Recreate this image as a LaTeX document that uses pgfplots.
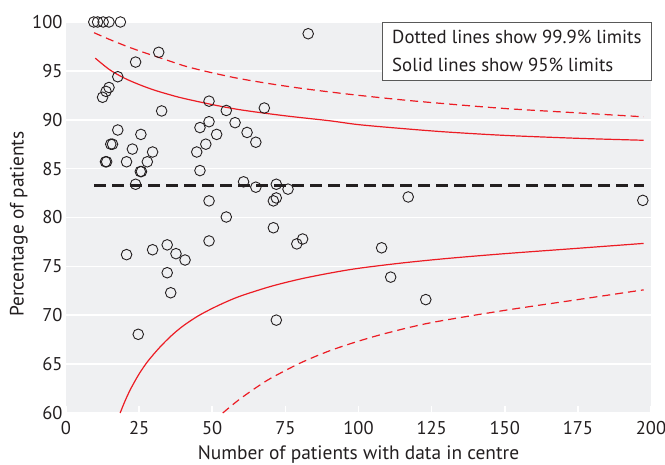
\documentclass[border=0pt]{standalone}
\usepackage{fontspec}
\setmainfont{PT Sans}
\usepackage{pgfplots}
\pgfplotsset{compat=1.18}
\definecolor{bggray}{HTML}{EFF0F2}
\definecolor{fred}{HTML}{EC1C24}
\definecolor{ink}{HTML}{231F20}
\begin{document}
\begin{tikzpicture}
\begin{axis}[
  at={(0,0)}, anchor=south west,
  scale only axis, width=585pt, height=391pt,
  xmin=0, xmax=200, ymin=60, ymax=100,
  xtick={0,25,...,200}, ytick={60,65,...,100},
  clip=false,
  axis background/.style={fill=bggray},
  axis line style={draw=none},
  xtick pos=bottom, tick align=inside, major tick length=7pt,
  xtick style={draw=white, line width=1.5pt},
  ytick style={draw=none},
  ymajorgrids, grid style={white, line width=1.6pt},
  /pgf/number format/assume math mode=true,
  tick label style={font=\fontsize{18.5}{18.5}\selectfont, text=ink},
  xticklabel style={anchor=base, yshift=-22pt},
  label style={font=\fontsize{19.4}{19.4}\selectfont, text=ink},
  xlabel={Number of patients with data in centre},
  ylabel={Percentage of patients},
  xlabel style={at={(axis description cs:0.5,-0.1202)}, anchor=base},
  ylabel style={at={(axis description cs:-0.0805,0.483)}, anchor=center},
]
% mean
\addplot[ink, line width=2.8pt, dash pattern=on 12pt off 6pt] coordinates {(9.7,83.3) (197.5,83.3)};
% 99.9% upper
\addplot[fred, line width=1.2pt, dash pattern=on 8pt off 5pt, smooth] coordinates {
(9.6,98.9) (15,98.2) (20,97.6) (25,97.05) (30,96.55) (35,96.05) (40,95.55) (45,95.15) (50,94.8) (55,94.47) (60,94.17) (70,93.67) (80,93.23) (90,92.85) (100,92.5) (115,92.03) (130,91.63) (150,91.15) (175,90.7) (197.5,90.3)};
% 95% upper
\addplot[fred, line width=1.2pt, smooth] coordinates {
(10,96.3) (15,95.1) (20,94.25) (25,93.6) (30,93.05) (35,92.6) (40,92.2) (50,91.55) (60,91.0) (75,90.4) (90,89.9) (100,89.5) (115,89.1) (130,88.75) (150,88.4) (175,88.1) (197.5,87.9)};
% 95% lower
\addplot[fred, line width=1.2pt, smooth] coordinates {
(18.5,60) (20,61.1) (22,62.4) (25,64.0) (28,65.3) (32,66.7) (36,67.9) (40,68.9) (45,69.9) (50,70.7) (55,71.4) (60,72.0) (70,72.95) (80,73.7) (90,74.3) (100,74.8) (115,75.35) (130,75.8) (150,76.3) (175,76.85) (197.5,77.35)};
% 99.9% lower
\addplot[fred, line width=1.2pt, dash pattern=on 8pt off 5pt, smooth] coordinates {
(53.6,60) (57,60.85) (60,61.55) (65,62.6) (70,63.55) (80,65.1) (90,66.35) (100,67.35) (110,68.2) (125,69.25) (150,70.5) (175,71.6) (197.5,72.6)};
% centres
\addplot[only marks, mark=o, mark size=5.3pt, mark options={draw=ink, fill=white, line width=0.9pt}] coordinates {
(9.5,100) (10.8,100) (12.7,100) (14.7,100) (18.6,100)
(31.7,96.9) (23.8,95.9) (17.7,94.4) (14.7,93.3) (13.7,92.9) (12.5,92.3) (48.9,91.9) (32.7,90.9) (48.9,89.8) (45.8,89.2) (51.5,88.5) (17.7,88.95) (25.6,88.5)
(15.3,87.5) (15.9,87.5) (22.7,87.0) (29.6,86.7) (13.5,85.7) (13.9,85.7) (20.7,85.7) (27.8,85.7) (25.4,84.7) (25.8,84.7) (23.8,83.4) (44.7,86.7) (47.8,87.5) (45.8,84.8) (48.9,81.7) (48.9,77.6) (20.7,76.2) (29.6,76.7) (34.6,77.2) (37.6,76.3) (40.7,75.65) (34.6,74.35) (35.8,72.3) (24.7,68.05)
(82.8,98.8) (54.8,90.95) (67.8,91.2) (57.8,89.7) (61.9,88.7) (64.9,87.7) (60.7,83.65) (64.9,83.1) (71.9,83.4) (75.9,82.9) (71.9,82.0) (70.9,81.7) (54.8,80.05) (70.9,78.95)
(117.0,82.1) (78.9,77.3) (80.9,77.8) (107.9,76.9) (111.0,73.9) (123.0,71.6) (71.9,69.5) (197.2,81.75)
};
\node[draw=black!65, line width=0.8pt, fill=white, anchor=north east, align=left, inner xsep=10pt, inner ysep=8pt,
  font=\fontsize{18.8}{28}\selectfont, text=ink] at (axis cs:200.3,100) {Dotted lines show 99.9\% limits\\Solid lines show 95\% limits};
\end{axis}
\pgfresetboundingbox
\path[use as bounding box] (-66pt,-52pt) rectangle (599pt,413pt);
\end{tikzpicture}
\end{document}
